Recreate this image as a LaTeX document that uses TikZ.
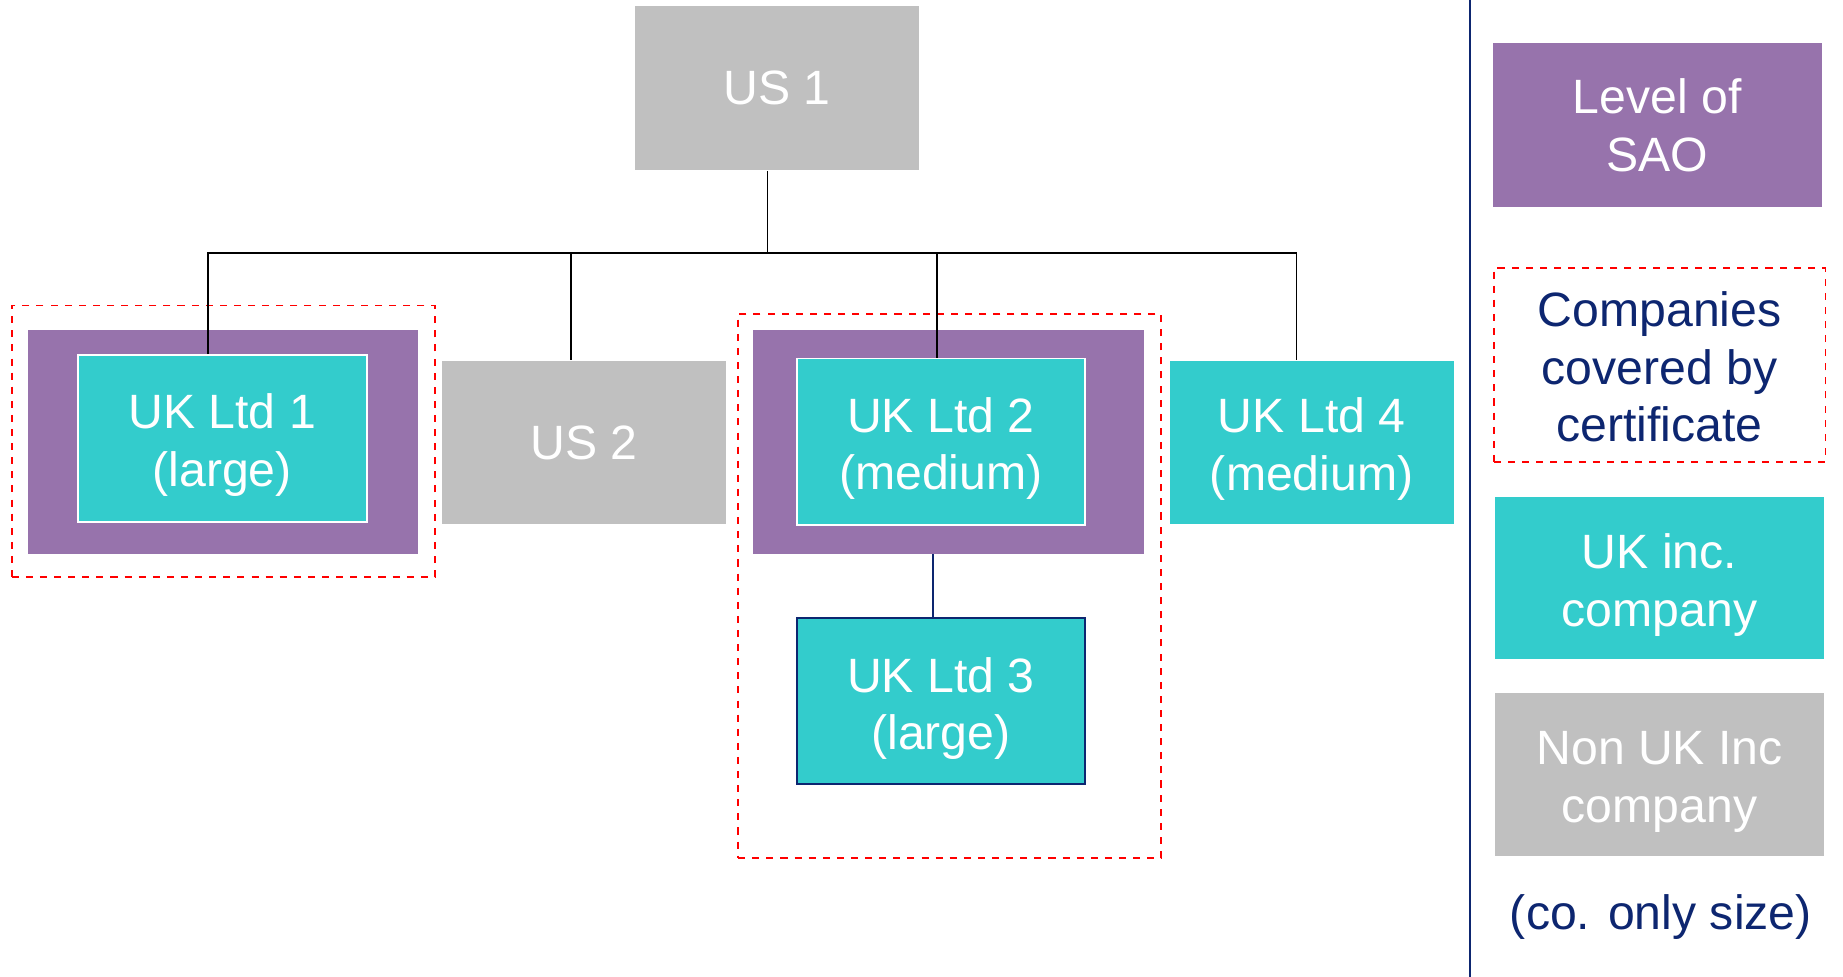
\documentclass[tikz,border=0pt]{standalone}
\usepackage{fontspec}
\setmainfont{Liberation Sans}
\definecolor{saopurple}{RGB}{151,115,172}
\definecolor{ukteal}{RGB}{51,204,204}
\definecolor{nongray}{RGB}{192,192,192}
\definecolor{navy}{RGB}{13,38,112}
\newcommand{\dn}[2][3.25pt]{\raisebox{-#1}[\height][\depth]{\begin{tabular}{@{}c@{}}#2\end{tabular}}}
\tikzset{
  co/.style={rectangle, inner sep=0pt, align=center, text=white,
    font=\fontsize{20.5}{24.5}\selectfont},
  sao/.style={rectangle, inner sep=0pt, fill=saopurple, minimum width=166pt, minimum height=95pt},
  certbox/.style={rectangle, inner sep=0pt, draw=red, dashed, line width=0.7pt},
  link/.style={black, line width=0.7pt}
}

\begin{document}
\begin{tikzpicture}[x=0.5pt,y=-0.5pt]
\useasboundingbox (0,0) rectangle (1568,831);
% covered by certificate
\node[certbox, minimum width=180pt, minimum height=115.5pt] (cert1) at (190,375.5) {};
\node[certbox, minimum width=180pt, minimum height=231.5pt] (cert2) at (808,498.5) {};
% level of SAO
\node[sao] (sao1) at (190,376) {};
\node[sao] (sao2) at (807,376) {};
% companies
\node[co, fill=nongray, minimum width=121pt, minimum height=70pt] (us1) at (661,75) {US 1};
\node[co, fill=ukteal, draw=white, line width=0.8pt, minimum width=123pt, minimum height=71pt] (ltd1) at (189,373) {\dn{UK Ltd 1\\(large)}};
\node[co, fill=nongray, minimum width=121pt, minimum height=69.5pt] (us2) at (497,376.5) {US 2};
\node[co, fill=ukteal, draw=white, line width=0.8pt, minimum width=122.5pt, minimum height=71pt] (ltd2) at (800.5,376) {\dn{UK Ltd 2\\(medium)}};
\node[co, fill=ukteal, draw=navy, line width=0.9pt, minimum width=122.5pt, minimum height=70.5pt] (ltd3) at (800.5,596.5) {\dn[3.5pt]{UK Ltd 3\\(large)}};
\node[co, fill=ukteal, minimum width=121pt, minimum height=69.5pt] (ltd4) at (1116,376.5) {\dn{UK Ltd 4\\(medium)}};
% ownership lines
\coordinate (top) at (653,215);
\coordinate (d1) at (177,215);
\coordinate (d2) at (486,215);
\coordinate (d3) at (797,215);
\coordinate (d4) at (1103,215);
\coordinate (d5) at (794,500);
\draw[link] (top |- us1.south) -- (top);
\draw[link] (d1 |- ltd1.north) -- (d1) -- (d4) -- (d4 |- ltd4.north);
\draw[link] (d2) -- (d2 |- us2.north);
\draw[link] (d3) -- (d3 |- ltd2.north);
\draw[navy, line width=0.9pt] (d5 |- sao2.south) -- (d5 |- ltd3.north);
% key
\coordinate (sepa) at (1251,0);
\coordinate (sepb) at (1251,831);
\draw[navy, line width=0.8pt] (sepa) -- (sepb);
\node[co, fill=saopurple, minimum width=140pt, minimum height=69.5pt] (keysao) at (1410,106.5) {Level of\\SAO};
\node[co, certbox, text=navy, minimum width=141pt, minimum height=82.5pt] (keycert) at (1412,310.5) {\dn{Companies\\covered by\\certificate}};
\node[co, fill=ukteal, minimum width=140pt, minimum height=69pt] (keyuk) at (1412,492) {\dn{UK inc.\\company}};
\node[co, fill=nongray, minimum width=140pt, minimum height=69pt] (keynon) at (1412,659) {\dn{Non UK Inc\\company}};
\node[co, text=navy] (keynote) at (1413,780) {(co. only size)};
\end{tikzpicture}
\end{document}
